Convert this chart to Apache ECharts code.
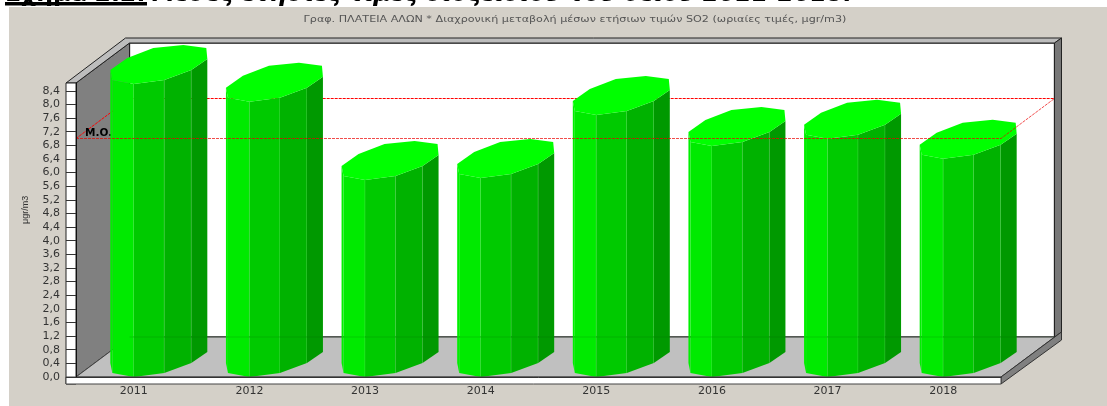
<!DOCTYPE html>
<html>
<head>
<meta charset="utf-8">
<script src="https://cdn.jsdelivr.net/npm/echarts@6/dist/echarts.min.js"></script>
<style>html,body{margin:0;padding:0;background:#fff}#chart{width:1107px;height:406px}</style>
</head>
<body>
<div id="chart"></div>
<script>
const years = ['2011', '2012', '2013', '2014', '2015', '2016', '2017', '2018'];
const so2Values = [8.6, 8.08, 5.78, 5.84, 7.69, 6.78, 6.99, 6.41];
const meanValue = [7.03];

const chartTitle = 'Γραφ. ΠΛΑΤΕΙΑ ΑΛΩΝ * Διαχρονική μεταβολή μέσων ετήσιων τιμών SO2 (ωριαίες τιμές, μgr/m3)';
const headingLabel = 'Σχήμα 2.2:';
const headingText = 'Μέσες ετήσιες τιμές διοξειδίου του θείου 2011-2018.';

// 3d look of the old chart: depth of the box, and the octagon of a bar (px from the bar's front point)
const DEPTH_X = 53.5;
const DEPTH_Y = -40;
const PRISM_FRONT = [[-23.5, -14], [-21.5, -4], [0, 0], [30.5, -4], [57.5, -14], [73.5, -25]];
const PRISM_BACK = [[72.5, -36], [49.5, -39], [19.5, -36], [-6.5, -26]];
const FACE_COLORS = ['#00f000', '#00ea00', '#00ca00', '#00b200', '#009900'];
const FONT = '"DejaVu Sans"';

const Z = { frame: 0, backLine: 1, bar: 2, floorEdge: 3, frontLine: 3, front: 4 };

const poly = (points, fill, stroke, z2, lineWidth) => ({
    type: 'polygon',
    z2,
    shape: { points },
    style: { fill, stroke: stroke || 'none', lineWidth: lineWidth || 1 }
});

const renderFrame = (params) => {
    const { x: L, y: T, width, height } = params.coordSys;
    const R = L + width;
    const B = T + height;
    const bx = L + DEPTH_X;
    const rx = R + DEPTH_X;
    const ty = T + DEPTH_Y;
    const by = B + DEPTH_Y;
    const dark = '#222';
    return {
        type: 'group',
        children: [
            poly([[bx, ty], [rx, ty], [rx, by], [bx, by]], '#fff', '#444', Z.frame, 1.4),
            poly([[L, T], [bx, ty], [bx, by], [L, B]], '#808080', dark, Z.frame),
            poly([[L, B], [bx, by], [rx, by], [R, B]], '#c0c0c0', '#444', Z.frame),
            poly([[L - 10, T], [bx - 4, ty - 5], [rx + 7, ty - 5], [rx, ty], [bx, ty], [L, T]], '#bdbdbd', dark, Z.frame),
            poly([[rx, ty], [rx + 7, ty - 5], [rx + 7, by - 5], [rx, by]], '#777', dark, Z.frame),
            // the floor's back edge shows faintly through the bars
            {
                type: 'line',
                z2: Z.floorEdge,
                shape: { x1: bx, y1: by, x2: rx, y2: by },
                style: { stroke: 'rgba(0,70,0,.16)', lineWidth: 1 }
            },
            poly([[R, B], [rx + 7, by - 5], [rx + 7, by + 3], [R, B + 7]], '#808080', '#333', Z.front),
            poly([[L - 10, T], [L, T], [L, B + 7], [L - 10, B + 7]], '#fff', dark, Z.front),
            poly([[L - 10, B], [R, B], [R, B + 7], [L - 10, B + 7]], '#fff', '#444', Z.front)
        ]
    };
};

const renderBar = (params, api) => {
    const top = api.coord([api.value(0), api.value(1)]);
    const base = api.coord([api.value(0), 0]);
    const atTop = ([dx, dy]) => [top[0] + dx, top[1] + dy];
    const atBase = ([dx, dy]) => [base[0] + dx, base[1] + dy];
    const children = [];
    for (let k = 0; k < PRISM_FRONT.length - 1; k++) {
        const a = PRISM_FRONT[k];
        const b = PRISM_FRONT[k + 1];
        children.push(poly([atTop(a), atTop(b), atBase(b), atBase(a)], FACE_COLORS[k], null, Z.bar));
        if (k > 0 && k < PRISM_FRONT.length - 2) {
            children.push({
                type: 'line',
                z2: Z.bar,
                shape: { x1: atTop(b)[0], y1: atTop(b)[1], x2: atBase(b)[0], y2: atBase(b)[1] },
                style: { stroke: 'rgba(120,240,120,.4)', lineWidth: 1 }
            });
        }
    }
    children.push(poly(PRISM_FRONT.concat(PRISM_BACK).map(atTop), '#00ff00', null, Z.bar));
    return { type: 'group', children };
};

const renderMean = (params, api) => {
    const { x: L, width } = params.coordSys;
    const y = Math.round(api.coord([0, api.value(1)])[1]) + 0.5;
    const R = L + width;
    const line = (points, z2, stroke) => ({
        type: 'polyline',
        z2,
        shape: { points },
        style: { stroke, lineWidth: 1, lineDash: [3, 1], fill: 'none' }
    });
    return {
        type: 'group',
        children: [
            line([[L, y], [L + DEPTH_X, y + DEPTH_Y], [R + DEPTH_X, y + DEPTH_Y]], Z.backLine, '#ff0000'),
            line([[L, y], [R, y], [R + DEPTH_X, y + DEPTH_Y]], Z.frontLine, 'rgba(235,0,0,.7)'),
            {
                type: 'text',
                z2: Z.backLine,
                x: L + 9,
                y: y - 11,
                style: { text: 'M.O.', fill: '#000', font: 'bold 10.5px ' + FONT }
            }
        ]
    };
};

const chart = echarts.init(document.getElementById('chart'));
chart.setOption({
    animation: false,
    backgroundColor: '#fff',
    grid: { left: 76, top: 83, width: 925, height: 294 },
    xAxis: {
        type: 'category',
        data: years,
        z: 10,
        axisLine: { lineStyle: { color: '#333', width: 1 } },
        axisTick: { alignWithLabel: true, length: 7, lineStyle: { color: '#000' } },
        axisLabel: { fontFamily: FONT, fontSize: 11, color: '#333', margin: 9 },
        splitLine: { show: false }
    },
    yAxis: {
        type: 'value',
        min: 0,
        max: 8.63,
        interval: 0.4,
        z: 10,
        axisLine: { show: true, lineStyle: { color: '#111', width: 1 } },
        axisTick: { show: true, length: 10, lineStyle: { color: '#333' } },
        axisLabel: {
            showMaxLabel: false,
            fontFamily: FONT,
            fontSize: 11,
            color: '#333',
            margin: 16,
            formatter: (v) => v.toFixed(1).replace('.', ',')
        },
        splitLine: { show: false }
    },
    graphic: [
        { type: 'text', x: 5, y: -17, style: { text: headingLabel, fill: '#000', font: 'bold 23.5px ' + FONT } },
        { type: 'rect', shape: { x: 5, y: 2, width: 142, height: 3.5 }, style: { fill: '#000' } },
        { type: 'text', x: 152, y: -17, style: { text: headingText, fill: '#000', font: 'italic bold 23.5px ' + FONT } },
        { type: 'rect', shape: { x: 9, y: 7, width: 1098, height: 399 }, style: { fill: '#d4d0c8' } },
        // old chart fonts are stretched sideways, hence the scaleX
        {
            type: 'text',
            x: 575,
            y: 15,
            scaleX: 1.2,
            originX: 0,
            style: { text: chartTitle, fill: '#555', align: 'center', font: '9.3px ' + FONT }
        },
        {
            type: 'text',
            x: 21,
            y: 224,
            rotation: Math.PI / 2,
            style: { text: 'μgr/m3', fill: '#333', font: '9px "Liberation Sans"' }
        }
    ],
    series: [
        { type: 'custom', coordinateSystem: 'cartesian2d', z: 2, silent: true, data: [[0, 0]], renderItem: renderFrame },
        { type: 'custom', coordinateSystem: 'cartesian2d', z: 2, silent: true, data: so2Values.map((v, i) => [i, v]), renderItem: renderBar },
        { type: 'custom', coordinateSystem: 'cartesian2d', z: 2, silent: true, data: meanValue.map((v) => [0, v]), renderItem: renderMean }
    ]
});
</script>
</body>
</html>
